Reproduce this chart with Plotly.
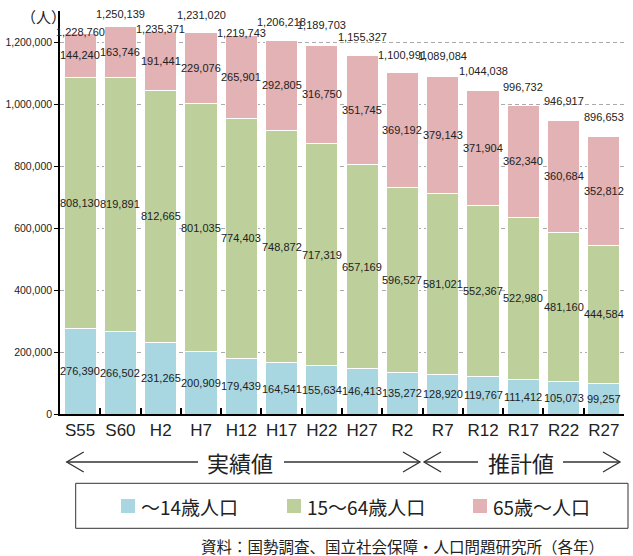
import plotly.graph_objects as go

# ---- data -------------------------------------------------------------
years = ["S55", "S60", "H2", "H7", "H12", "H17", "H22", "H27",
         "R2", "R7", "R12", "R17", "R22", "R27"]
age_0_14 = [276390, 266502, 231265, 200909, 179439, 164541, 155634, 146413,
            135272, 128920, 119767, 111412, 105073, 99257]
age_15_64 = [808130, 819891, 812665, 801035, 774403, 748872, 717319, 657169,
             596527, 581021, 552367, 522980, 481160, 444584]
age_65_up = [144240, 163746, 191441, 229076, 265901, 292805, 316750, 351745,
             369192, 379143, 371904, 362340, 360684, 352812]
series_names = ["～14歳人口", "15～64歳人口", "65歳～人口"]
y_ticks = [0, 200000, 400000, 600000, 800000, 1000000, 1200000]

# ---- styling ------------------------------------------------------------
colors = ["#A8D7E1", "#BDD09C", "#E3B2B4"]
txt = "#222222"
num_font = "Liberation Sans, Arial, sans-serif"
jp_font = "Noto Sans CJK JP, sans-serif"
# vertical lift (px) of each total label above its bar
total_lift = [1, 12, 2, 17, 3, 18, 20, 19, 18, 20, 19, 18, 19.5, 19]

W, H = 633, 556
M_L, M_R, M_T, M_B = 60, 9, 11, 142
PW, PH = W - M_L - M_R, H - M_T - M_B


def px(x):
    return (x - M_L) / PW


def py(y):
    return (H - M_B - y) / PH


series = [age_0_14, age_15_64, age_65_up]
totals = [sum(v) for v in zip(*series)]

fig = go.Figure()
for name, vals, col in zip(series_names, series, colors):
    fig.add_trace(go.Bar(
        x=years, y=vals, name=name,
        marker=dict(color=col, line=dict(color="white", width=1)),
        showlegend=False, hoverinfo="x+y+name",
    ))

annotations = []
# value labels centred in each segment
base = [0] * len(years)
for vals in series:
    for i, v in enumerate(vals):
        annotations.append(dict(
            x=years[i], y=base[i] + v / 2, xref="x", yref="y",
            text=f"{v:,}", showarrow=False,
            font=dict(family=num_font, size=11, color=txt),
        ))
        base[i] += v

# totals above the bars
for i, t in enumerate(totals):
    annotations.append(dict(
        x=years[i], y=t, xref="x", yref="y", yanchor="middle",
        yshift=total_lift[i], text=f"{t:,}", showarrow=False,
        font=dict(family=num_font, size=11, color=txt),
    ))

# unit label
annotations.append(dict(
    x=px(43), y=py(16), xref="paper", yref="paper",
    text="（人）", showarrow=False, xanchor="center", yanchor="middle",
    font=dict(family=jp_font, size=15, color=txt),
))

# period captions between the arrows
for label, cx in [("実績値", 240), ("推計値", 520.5)]:
    annotations.append(dict(
        x=px(cx), y=py(462), xref="paper", yref="paper",
        text=label, showarrow=False, xanchor="center", yanchor="middle",
        font=dict(family=jp_font, size=22, color=txt),
    ))

# legend entries
legend_pos = [121, 287, 473]
shapes = []
for name, col, x0 in zip(series_names, colors, legend_pos):
    shapes.append(dict(
        type="rect", xref="paper", yref="paper",
        x0=px(x0), x1=px(x0 + 14), y0=py(513), y1=py(499),
        fillcolor=col, line=dict(width=0),
    ))
    annotations.append(dict(
        x=px(x0 + 18), y=py(506), xref="paper", yref="paper",
        text=name, showarrow=False, xanchor="left", yanchor="middle",
        font=dict(family=jp_font, size=19, color=txt),
    ))

# legend frame
shapes.append(dict(
    type="rect", xref="paper", yref="paper",
    x0=px(75.7), x1=px(628), y0=py(528.3), y1=py(483.3),
    line=dict(color="#333333", width=1), fillcolor="rgba(0,0,0,0)",
))

# source note
annotations.append(dict(
    x=px(606), y=py(546), xref="paper", yref="paper",
    text="資料：国勢調査、国立社会保障・人口問題研究所（各年）",
    showarrow=False, xanchor="right", yanchor="middle",
    font=dict(family=jp_font, size=15.5, color=txt),
))

# double-headed arrows marking the actual / projected periods
arrow_line = dict(color="#333333", width=1.3)
ay = 462
segments = [(66.7, 198), (284, 420), (424, 478), (563, 620)]
for x0, x1 in segments:
    shapes.append(dict(type="line", xref="paper", yref="paper",
                       x0=px(x0), x1=px(x1), y0=py(ay), y1=py(ay),
                       line=arrow_line))
heads = [(66.7, 1), (420, -1), (424, 1), (620, -1)]
for tip, d in heads:
    back = tip + d * 17
    path = (f"M {px(back)},{py(ay - 10)} L {px(tip)},{py(ay)} "
            f"L {px(back)},{py(ay + 10)}")
    shapes.append(dict(type="path", xref="paper", yref="paper",
                       path=path, line=arrow_line))

fig.update_layout(
    width=W, height=H,
    margin=dict(l=M_L, r=M_R, t=M_T, b=M_B, autoexpand=False),
    paper_bgcolor="white", plot_bgcolor="white",
    barmode="stack", bargap=0.2,
    annotations=annotations, shapes=shapes,
    xaxis=dict(
        type="category", range=[-0.5, len(years) - 0.5],
        showline=True, linecolor="black", linewidth=2,
        ticks="inside", tickson="boundaries", ticklen=6,
        tickcolor="black", tickwidth=1.5, tickangle=0,
        tickfont=dict(family=num_font, size=17, color=txt),
        showgrid=False,
    ),
    yaxis=dict(
        range=[0, 1300000], tickvals=y_ticks, tickformat=",d",
        showline=True, linecolor="black", linewidth=1.5,
        ticks="outside", ticklen=4, tickcolor="black",
        tickfont=dict(family=num_font, size=10.5, color=txt),
        showgrid=True, gridcolor="#ABABAB", gridwidth=1,
        griddash="4px,3px", zeroline=False,
    ),
)

fig.write_html("out.html")
